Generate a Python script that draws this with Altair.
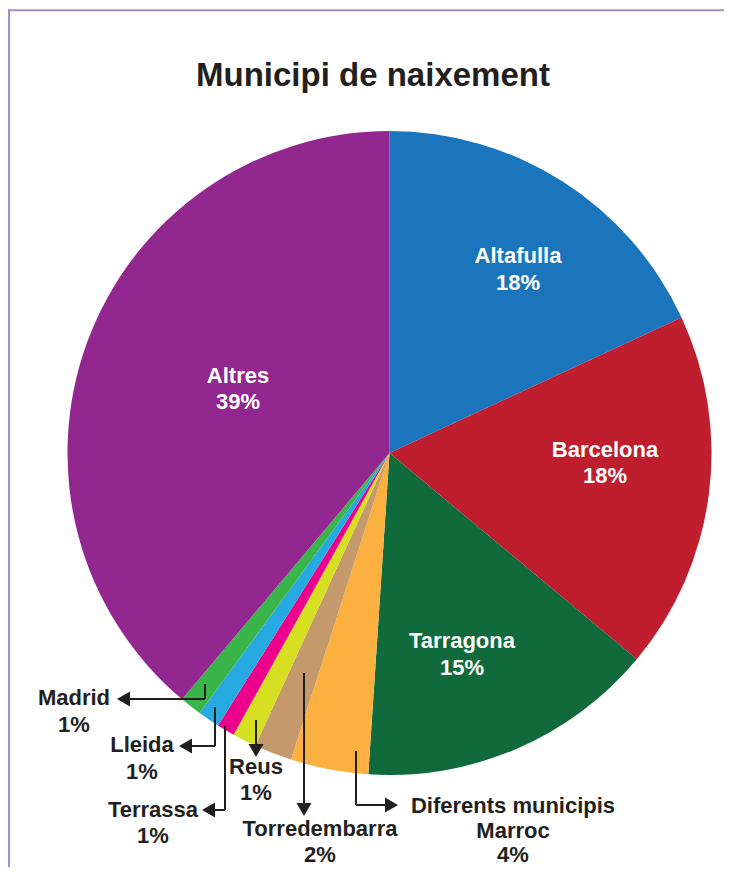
import altair as alt
import pandas as pd

# ---- data ----
names = ["Altafulla", "Barcelona", "Tarragona", "Diferents municipis Marroc",
         "Torredembarra", "Reus", "Terrassa", "Lleida", "Madrid", "Altres"]
values = [18.1, 18.0, 15.0, 3.9, 1.9, 1.2, 0.9, 1.1, 1.1, 38.9]
colors = ["#1b75bc", "#be1e2d", "#116a3b", "#fbb040", "#c49a6c",
          "#d7df23", "#ec008c", "#27aae1", "#39b54a", "#92278f"]

title_text = "Municipi de naixement"

# labels: (text, page x, page baseline y)
inner_labels = [
    ("Altafulla", 518, 263), ("18%", 518, 290),
    ("Barcelona", 605, 457), ("18%", 605, 483),
    ("Tarragona", 462, 648), ("15%", 462, 675),
    ("Altres", 238, 383), ("39%", 238, 409),
]
outer_labels = [
    ("Madrid", 74, 705), ("1%", 74, 732),
    ("Lleida", 142, 752), ("1%", 142, 779),
    ("Terrassa", 153, 817), ("1%", 153, 843),
    ("Reus", 256, 774), ("1%", 256, 800),
    ("Torredembarra", 320, 836), ("2%", 320, 862),
    ("Diferents municipis", 513, 813), ("Marroc", 513, 838), ("4%", 513, 862),
]
# leader segments (page coords)
segments = [
    (205, 684, 205, 699), (205, 699, 128, 699),
    (215, 707, 215, 746), (215, 746, 190, 746),
    (225, 726, 225, 810), (225, 810, 213, 810),
    (256, 720, 256, 746),
    (304, 673, 304, 805),
    (356, 751, 356, 805), (356, 805, 388, 805),
]
# arrow tips (page coords) and direction
tips = [(117, 699, "left"), (179, 746, "left"), (202, 810, "left"),
        (256, 757, "down"), (304, 816, "down"), (398, 805, "right")]

# ---- layout ----
OX, OY = 8, 8
W, H = 716, 859
CX, CY, R = 389.5 - OX, 453 - OY, 322
HEAD = 225
h = 0.433 * HEAD ** 0.5

def px(x):
    return x - OX

def py(y):
    return y - OY

pie_df = pd.DataFrame({"name": names, "value": values, "idx": list(range(len(names)))})

lab_rows = [{"text": t, "x": px(x), "y": py(y), "c": "#ffffff"} for t, x, y in inner_labels]
lab_rows += [{"text": t, "x": px(x), "y": py(y), "c": "#231f20"} for t, x, y in outer_labels]
lab_df = pd.DataFrame(lab_rows)

seg_df = pd.DataFrame([{"x": px(a), "y": py(b), "x2": px(c), "y2": py(d)} for a, b, c, d in segments])

off = {"left": (h, 0), "right": (-h, 0), "down": (0, -h)}
tip_df = pd.DataFrame([{"x": px(x) + off[d][0], "y": py(y) + off[d][1], "shape": "triangle-" + d}
                       for x, y, d in tips])

title_df = pd.DataFrame([{"text": title_text, "x": px(373), "y": py(86)}])

XS = dict(scale=None, axis=None)
BORDER = "#a58dc8"
TOP_Y = 10.3 - OY

pie = alt.Chart(pie_df).mark_arc(radius=R).encode(
    theta=alt.Theta("value:Q", stack=True),
    color=alt.Color("name:N", scale=alt.Scale(domain=names, range=colors), legend=None),
    order=alt.Order("idx:Q"),
    x=alt.value(CX), y=alt.value(CY),
)

border_top = alt.Chart(title_df).mark_rect(color=BORDER).encode(
    x=alt.value(0), x2=alt.value(W), y=alt.value(TOP_Y - 1), y2=alt.value(TOP_Y + 1))
border_left = alt.Chart(title_df).mark_rect(color=BORDER).encode(
    x=alt.value(0), x2=alt.value(2), y=alt.value(TOP_Y - 1), y2=alt.value(H))

segs = alt.Chart(seg_df).mark_rule(color="#231f20", strokeWidth=2).encode(
    x=alt.X("x:Q", **XS), y=alt.Y("y:Q", **XS), x2="x2:Q", y2="y2:Q")

heads = alt.Chart(tip_df).mark_point(filled=True, color="#231f20", size=HEAD, opacity=1).encode(
    x=alt.X("x:Q", **XS), y=alt.Y("y:Q", **XS),
    shape=alt.Shape("shape:N", scale=None, legend=None))

labels = alt.Chart(lab_df).mark_text(
    align="center", baseline="alphabetic", font="Liberation Sans",
    fontWeight="bold", fontSize=22).encode(
    x=alt.X("x:Q", **XS), y=alt.Y("y:Q", **XS), text="text:N",
    color=alt.Color("c:N", scale=None, legend=None))

title = alt.Chart(title_df).mark_text(
    align="center", baseline="alphabetic", font="Liberation Sans",
    fontWeight="bold", fontSize=33, color="#231f20").encode(
    x=alt.X("x:Q", **XS), y=alt.Y("y:Q", **XS), text="text:N")

chart = alt.layer(border_top, border_left, pie, segs, heads, labels, title).properties(
    width=W, height=H, autosize=alt.AutoSizeParams(type="none"),
    padding=0,
).configure_view(strokeWidth=0, stroke="transparent")

chart.save("out.html", embed_options={"renderer": "svg", "actions": False})
